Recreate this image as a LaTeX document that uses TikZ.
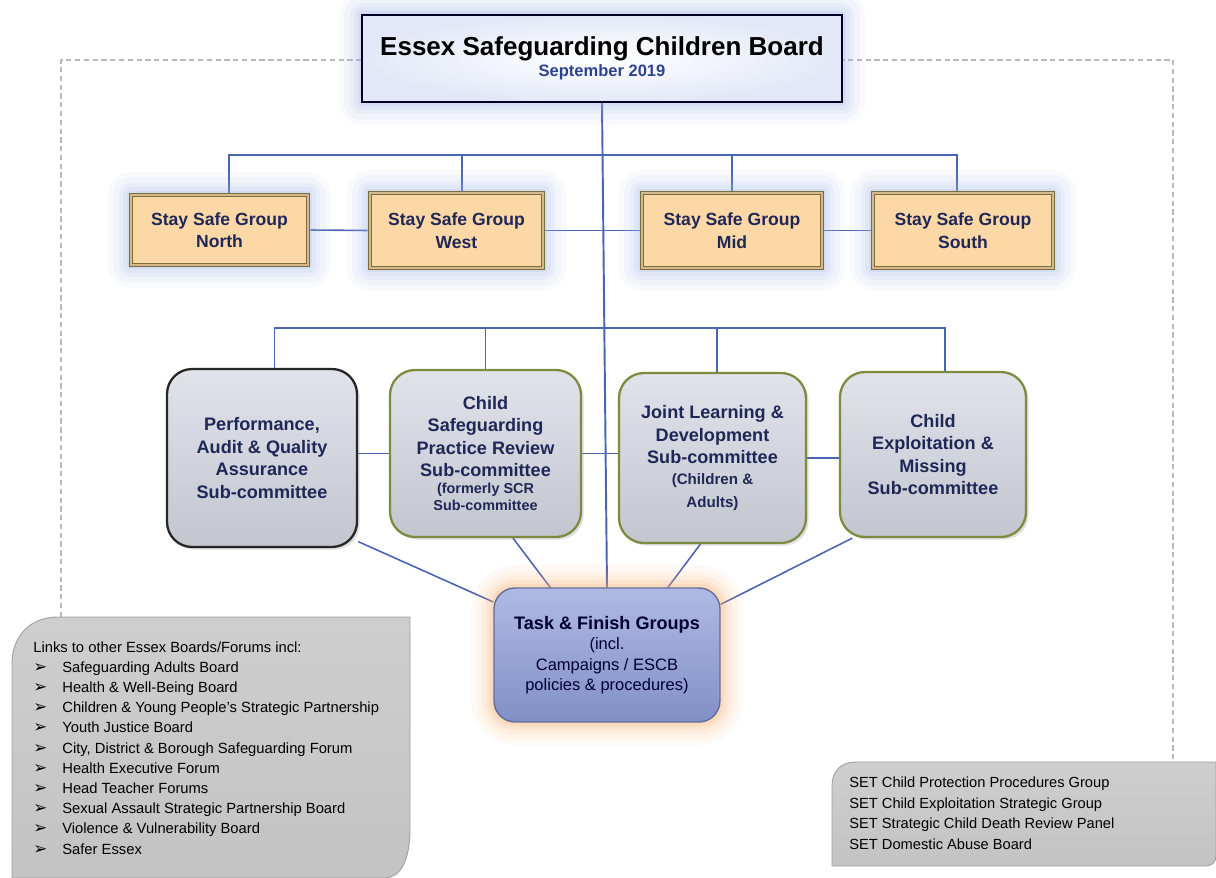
\documentclass[tikz,border=0pt]{standalone}
\usepackage{fontspec}
\setmainfont{Liberation Sans}
\newfontfamily\symfont{DejaVu Sans}
\usetikzlibrary{shadows,backgrounds}

\definecolor{linkblue}{HTML}{4A64B4}
\definecolor{navy}{HTML}{1F2757}
\definecolor{datenavy}{HTML}{2D4391}
\definecolor{peach}{HTML}{FCD8A6}
\definecolor{olive}{HTML}{77703A}
\definecolor{bevel}{HTML}{D6B88C}
\definecolor{glowblue}{HTML}{9FB3E4}
\definecolor{glowpeach}{HTML}{F6B070}
\definecolor{subgrey}{HTML}{D3D7E1}
\definecolor{subgreen}{HTML}{7E8B3F}
\definecolor{taskblue}{HTML}{8D9CD8}
\definecolor{boxgrey}{HTML}{C9C9C9}

\newcommand{\arrowbullet}{\makebox[0.58cm][l]{\symfont\fontsize{9.5}{9.5}\selectfont ➢}}

\tikzset{
  glow/.style={preaction={draw=#1,line width=26pt,opacity=.07,line join=round},
               preaction={draw=#1,line width=20pt,opacity=.08,line join=round},
               preaction={draw=#1,line width=14pt,opacity=.10,line join=round},
               preaction={draw=#1,line width=9pt,opacity=.13,line join=round},
               preaction={draw=#1,line width=5pt,opacity=.18,line join=round}},
  link/.style={linkblue, line width=0.9pt},
  safebox/.style={rectangle, glow=glowblue, fill=peach, draw=olive, line width=2.6pt,
    postaction={draw=bevel, line width=0.9pt}, text=navy, align=center,
    font=\fontsize{10}{12.8}\selectfont\bfseries},
  subbox/.style={rectangle, rounded corners=0.5cm, draw=subgreen, line width=1.3pt,
    top color=subgrey!70!white, bottom color=subgrey!92!black, text=navy, align=center,
    font=\fontsize{10.3}{12.8}\selectfont\bfseries,
    drop shadow={opacity=.25, shadow xshift=1.5pt, shadow yshift=-1.5pt}},
  greybox/.style={draw=gray!75, line width=0.5pt, top color=boxgrey!90!white, bottom color=boxgrey!97!black}
}

\begin{document}
\begin{tikzpicture}[x=0.02cm, y=-0.02cm]
        \useasboundingbox (0,0) rectangle (1216,878);

        % Board at the top
        \node[rectangle, glow=glowblue, draw=black!85!blue, line width=1.3pt,
              inner color=white, outer color=glowblue!30!white,
              minimum width=9.6cm, minimum height=1.74cm, align=center] (board) at (602,58.5)
              {{\fontsize{14.8}{18}\selectfont\bfseries Essex Safeguarding Children Board}\\[0pt]
               {\fontsize{9.4}{11}\selectfont\bfseries\color{datenavy} September 2019}};

        % Stay Safe groups
        \node[safebox, minimum width=3.54cm, minimum height=1.4cm] (north) at (219.5,230) {Stay Safe Group\\North};
        \node[safebox, minimum width=3.46cm, minimum height=1.5cm] (west) at (456.5,230.5) {Stay Safe Group\\West};
        \node[safebox, minimum width=3.6cm, minimum height=1.5cm] (mid) at (732,230.5) {Stay Safe Group\\Mid};
        \node[safebox, minimum width=3.6cm, minimum height=1.5cm] (south) at (963,230.5) {Stay Safe Group\\South};

        % Sub-committees
        \node[subbox, draw=black!85, minimum width=3.8cm, minimum height=3.56cm] (perf) at (262,458)
              {Performance,\\Audit \& Quality\\Assurance\\Sub-committee};
        \node[subbox, minimum width=3.82cm, minimum height=3.34cm] (cspr) at (485.5,453.5)
              {Child\\Safeguarding\\Practice Review\\Sub-committee\\[-3pt]
               \fontsize{8.2}{9.5}\selectfont (formerly SCR\\[-3pt]\fontsize{8.2}{9.5}\selectfont Sub-committee};
        \node[subbox, minimum width=3.74cm, minimum height=3.4cm] (jld) at (712.5,458)
              {Joint Learning \&\\Development\\Sub-committee\\[-1pt]
               \fontsize{8.6}{10}\selectfont (Children \&\\\fontsize{8.6}{10}\selectfont Adults)};
        \node[subbox, minimum width=3.72cm, minimum height=3.3cm] (cem) at (933,454.5)
              {Child\\Exploitation \&\\Missing\\Sub-committee};

        % Task & Finish
        \node[rectangle, rounded corners=0.42cm, glow=glowpeach, draw=taskblue!70!black, line width=0.8pt,
              top color=taskblue!70!white, bottom color=taskblue!92!black, text=black!80!blue,
              minimum width=4.52cm, minimum height=2.68cm, align=center,
              font=\fontsize{9.4}{11.6}\selectfont] (task) at (607,655)
              {{\fontsize{10.3}{11.6}\selectfont\bfseries Task \& Finish Groups}\\(incl.\\Campaigns / ESCB\\policies \& procedures)};

        % Links to other boards
        \path[greybox] (12,878) -- (12,664) .. controls (12,636) and (30,617) .. (58,617) -- (410,617)
              -- (410,828) .. controls (410,862) and (400,878) .. (384,878) -- cycle;
        \node[anchor=north west, align=left, inner sep=0pt, font=\fontsize{8.4}{11.5}\selectfont] (links) at (33,641)
              {Links to other Essex Boards/Forums incl:\\
               \arrowbullet Safeguarding Adults Board\\
               \arrowbullet Health \& Well-Being Board\\
               \arrowbullet Children \& Young People's Strategic Partnership\\
               \arrowbullet Youth Justice Board\\
               \arrowbullet City, District \& Borough Safeguarding Forum\\
               \arrowbullet Health Executive Forum\\
               \arrowbullet Head Teacher Forums\\
               \arrowbullet Sexual Assault Strategic Partnership Board\\
               \arrowbullet Violence \& Vulnerability Board\\
               \arrowbullet Safer Essex};

        % SET groups
        \path[greybox] (832,866) -- (832,786) .. controls (832,771) and (841,762) .. (856,762) -- (1216,762)
              -- (1216,855) .. controls (1216,863) and (1212,866) .. (1204,866) -- cycle;
        \node[anchor=north west, align=left, inner sep=0pt, font=\fontsize{8.35}{11.6}\selectfont] (set) at (849,777)
              {SET Child Protection Procedures Group\\
               SET Child Exploitation Strategic Group\\
               SET Strategic Child Death Review Panel\\
               SET Domestic Abuse Board};

        \begin{pgfonlayer}{background}
        % Dashed frame
        \draw[gray!55, dash pattern=on 3pt off 2pt, line width=0.6pt] (61,617) -- (61,60) -- (1173,60) -- (1173,762);

        % Spine
        \draw[link, line width=1.1pt] (board.south) -- (task.north);

        % Bus to Stay Safe groups
        \coordinate (bus1) at (600,155);
        \draw[link] (north.76) |- (bus1) -| (south.99);
        \draw[link] (west.82) -- (west.82 |- bus1);
        \draw[link] (mid.north) -- (mid.north |- bus1);
        \draw[link] (north.east) -- (west.west);
        \draw[link] (west.east) -- (mid.west);
        \draw[link] (mid.east) -- (south.west);

        % Bus to sub-committees
        \coordinate (bus2) at (600,328);
        \draw[link] (perf.82) |- (bus2) -| (cem.82);
        \draw[link] (cspr.north) -- (cspr.north |- bus2);
        \draw[link] (jld.87) -- (jld.87 |- bus2);
        \draw[link] (perf.east |- cspr.west) -- (cspr.west);
        \draw[link] (cspr.east) -- (jld.west |- cspr.east);
        \draw[link] (jld.east) -- (cem.west |- jld.east);

        % Down to Task & Finish
        \draw[link] (perf.-41) -- (task.155);
        \draw[link] (cspr.-72) -- (task.130);
        \draw[link] (jld.-98) -- (task.48);
        \draw[link] (cem.-134) -- (task.24);
        \end{pgfonlayer}
\end{tikzpicture}
\end{document}
